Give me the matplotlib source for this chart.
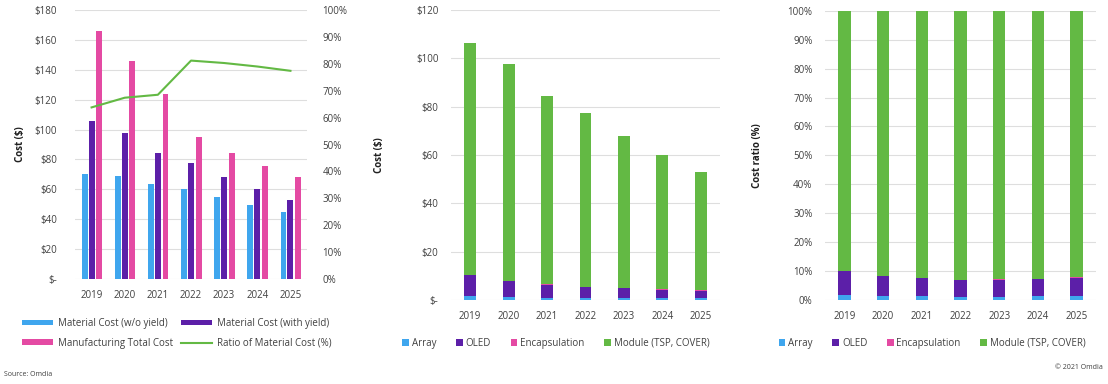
import matplotlib.pyplot as plt
import numpy as np
from matplotlib.ticker import FuncFormatter

years = ["2019", "2020", "2021", "2022", "2023", "2024", "2025"]

# left chart: cost ($) and material ratio (%)
material_wo_yield = [70, 69, 63.6, 60.5, 54.7, 49.3, 44.6]
material_with_yield = [106, 97.6, 84.4, 77.5, 68, 60, 53.1]
manufacturing_total = [166, 145.7, 123.6, 95.3, 84.3, 75.6, 68.5]
material_ratio = [63.8, 67.4, 68.5, 81.2, 80.3, 79.0, 77.4]

# middle chart: stacked cost ($)
array_cost = [1.6, 1.2, 1.0, 0.9, 0.8, 0.8, 0.7]
oled_cost = [8.6, 6.7, 5.4, 4.4, 4.1, 3.5, 3.2]
encap_cost = [0.1, 0.1, 0.1, 0.1, 0.1, 0.1, 0.1]
module_cost = [95.9, 89.6, 77.9, 72.1, 63.0, 55.6, 49.1]

# right chart: stacked cost ratio (%)
array_pct = [1.8, 1.3, 1.3, 1.2, 1.2, 1.3, 1.3]
oled_pct = [8.1, 6.9, 6.3, 5.6, 5.8, 6.0, 6.4]
encap_pct = [0.1, 0.1, 0.1, 0.1, 0.1, 0.1, 0.1]
module_pct = [90.0, 91.7, 92.3, 93.1, 92.9, 92.6, 92.2]

BLUE = "#3fa6ee"
PURPLE = "#5c1fa8"
PINK = "#e44aa3"
GREEN = "#63b944"
TEXT = "#404040"
GRID = "#dedede"

plt.rcParams["font.family"] = ["Open Sans", "DejaVu Sans"]
plt.rcParams["font.size"] = 7

fig = plt.figure(figsize=(11.08, 3.84), dpi=100)


def style(ax):
    for side in ("top", "right", "left", "bottom"):
        ax.spines[side].set_visible(False)
    ax.tick_params(length=0, colors=TEXT, labelsize=7)
    ax.grid(axis="y", color=GRID, linewidth=0.8)
    ax.set_axisbelow(True)


def dollars(v, _):
    return "$-" if v == 0 else f"${v:.0f}"


x = np.arange(len(years))
stack_legend = dict(
    ncol=4,
    loc="upper center",
    frameon=False,
    fontsize=7,
    handlelength=0.7,
    handleheight=0.7,
    handletextpad=0.3,
    columnspacing=2.0,
    labelcolor=TEXT,
)

# ---- left
ax1 = fig.add_axes([0.0677, 0.2734, 0.2094, 0.7005])
style(ax1)
w = 0.18
b1 = ax1.bar(x - 0.21, material_wo_yield, w, color=BLUE, label="Material Cost (w/o yield)")
b2 = ax1.bar(x, material_with_yield, w, color=PURPLE, label="Material Cost (with yield)")
b3 = ax1.bar(x + 0.23, manufacturing_total, w, color=PINK, label="Manufacturing Total Cost")
ax1.set_ylim(0, 180)
ax1.set_yticks(range(0, 181, 20))
ax1.yaxis.set_major_formatter(FuncFormatter(dollars))
ax1.set_xlim(-0.5, 6.5)
ax1.set_xticks(x)
ax1.set_xticklabels(years)
ax1.tick_params(axis="y", pad=13)
ax1.tick_params(axis="x", pad=8)
ax1.set_ylabel("Cost ($)", fontweight="bold", color="#202020", labelpad=6)
ax1r = ax1.twinx()
for side in ("top", "right", "left", "bottom"):
    ax1r.spines[side].set_visible(False)
ax1r.tick_params(length=0, colors=TEXT, labelsize=7, pad=11)
(ln,) = ax1r.plot(x, material_ratio, color=GREEN, linewidth=1.5, label="Ratio of Material Cost (%)")
ax1r.set_ylim(0, 100)
ax1r.set_yticks(range(0, 101, 10))
ax1r.yaxis.set_major_formatter(FuncFormatter(lambda v, _: f"{v:.0f}%"))
fig.legend(
    [b1, b3, b2, ln],
    [b1.get_label(), b3.get_label(), b2.get_label(), ln.get_label()],
    ncol=2,
    loc="upper left",
    bbox_to_anchor=(0.012, 0.195),
    frameon=False,
    fontsize=7,
    handlelength=3.2,
    handleheight=0.5,
    handletextpad=0.5,
    columnspacing=0.8,
    labelspacing=0.9,
    labelcolor=TEXT,
)
fig.text(0.004, 0.022, "Source: Omdia", fontsize=5, color=TEXT)

# ---- middle
ax2 = fig.add_axes([0.407, 0.2188, 0.2428, 0.755])
style(ax2)
bottom = np.zeros(len(years))
for vals, col, lab in (
    (array_cost, BLUE, "Array"),
    (oled_cost, PURPLE, "OLED"),
    (encap_cost, PINK, "Encapsulation"),
    (module_cost, GREEN, "Module (TSP, COVER)"),
):
    ax2.bar(x, vals, 0.31, bottom=bottom, color=col, label=lab)
    bottom += np.array(vals)
ax2.set_ylim(0, 120)
ax2.set_yticks(range(0, 121, 20))
ax2.yaxis.set_major_formatter(FuncFormatter(dollars))
ax2.set_xlim(-0.5, 6.5)
ax2.set_xticks(x)
ax2.set_xticklabels(years)
ax2.tick_params(axis="y", pad=9)
ax2.tick_params(axis="x", pad=8)
ax2.set_ylabel("Cost ($)", fontweight="bold", color="#202020", labelpad=22)
ax2.legend(bbox_to_anchor=(0.39, -0.1), **stack_legend)

# ---- right
ax3 = fig.add_axes([0.7446, 0.2188, 0.2446, 0.753])
style(ax3)
bottom = np.zeros(len(years))
for vals, col, lab in (
    (array_pct, BLUE, "Array"),
    (oled_pct, PURPLE, "OLED"),
    (encap_pct, PINK, "Encapsulation"),
    (module_pct, GREEN, "Module (TSP, COVER)"),
):
    ax3.bar(x, vals, 0.32, bottom=bottom, color=col, label=lab)
    bottom += np.array(vals)
ax3.set_ylim(0, 100)
ax3.set_yticks(range(0, 101, 10))
ax3.yaxis.set_major_formatter(FuncFormatter(lambda v, _: f"{v:.0f}%"))
ax3.set_xlim(-0.5, 6.5)
ax3.set_xticks(x)
ax3.set_xticklabels(years)
ax3.tick_params(axis="y", pad=9)
ax3.tick_params(axis="x", pad=8)
ax3.set_ylabel("Cost ratio (%)", fontweight="bold", color="#202020", labelpad=18)
ax3.legend(bbox_to_anchor=(0.395, -0.1), **stack_legend)
fig.text(0.995, 0.04, "© 2021 Omdia", fontsize=5, color=TEXT, ha="right")

fig.savefig("out.png", dpi=100)
